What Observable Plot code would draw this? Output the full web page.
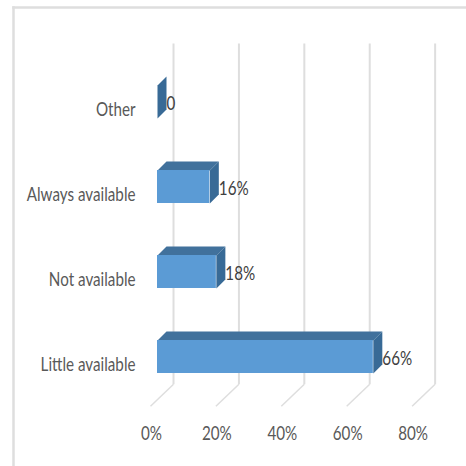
<!DOCTYPE html>
<html>
<head>
<meta charset="utf-8">
<script src="https://cdn.jsdelivr.net/npm/d3@7"></script>
<script src="https://cdn.jsdelivr.net/npm/@observablehq/plot@0.6"></script>
<style>
  html, body { margin: 0; padding: 0; background: #fff; }
</style>
</head>
<body>
<div id="chart"></div>
<script>
const categories = ["Other", "Always available", "Not available", "Little available"];
const shares = [0, 16, 18, 66];
const shareLabels = ["0", "16%", "18%", "66%"];
const axisTicks = [0, 20, 40, 60, 80];

const rows = categories.map((name, i) => ({name, row: i, value: shares[i], label: shareLabels[i]}));

// Oblique projection of the pseudo-3D bars, in data units.
const halfBar = 0.194, depthX = 2.75, depthY = 0.106;
const wallX = 4.9, floorX = -2.14, wallTop = -0.688, wallBottom = 3.32, floorFront = 3.58;

const topFaces = rows.flatMap(d => [
  [0, d.row - halfBar], [d.value, d.row - halfBar],
  [d.value + depthX, d.row - halfBar - depthY], [depthX, d.row - halfBar - depthY]
].map(([x, y]) => ({x, y, name: d.name})));

const sideFaces = rows.flatMap(d => [
  [d.value, d.row - halfBar], [d.value, d.row + halfBar],
  [d.value + depthX, d.row + halfBar - depthY], [d.value + depthX, d.row - halfBar - depthY]
].map(([x, y]) => ({x, y, name: d.name})));

const chart = Plot.plot({
  width: 466,
  height: 466,
  marginLeft: 13,
  marginTop: 7,
  marginRight: 0,
  marginBottom: 0,
  style: {color: "#595959", background: "#fff", fontFamily: "Lato, sans-serif", fontSize: "19px"},
  x: {domain: [0, 80], range: [157, 418.6], axis: null},
  y: {domain: [-1, 4], range: [16.5, 441.5], axis: null},
  marks: [
    Plot.frame({anchor: "top", stroke: "#dedede", strokeWidth: 2.5}),
    Plot.frame({anchor: "left", stroke: "#dedede", strokeWidth: 2.5}),
    // Back wall and floor gridlines
    Plot.link(axisTicks, {x1: d => d + wallX, x2: d => d + wallX, y1: () => wallTop, y2: () => wallBottom, stroke: "#dedede", strokeWidth: 2}),
    Plot.link(axisTicks, {x1: d => d + wallX, x2: d => d + floorX, y1: () => wallBottom, y2: () => floorFront, stroke: "#dedede", strokeWidth: 1.5}),
    // Bars: top face, side face, front face
    Plot.line(topFaces, {x: "x", y: "y", z: "name", fill: "#41719c", stroke: null, curve: "linear-closed"}),
    Plot.line(sideFaces, {x: "x", y: "y", z: "name", fill: "#386a96", stroke: null, curve: "linear-closed"}),
    Plot.rect(rows, {x1: () => 0, x2: "value", y1: d => d.row - halfBar, y2: d => d.row + halfBar, fill: "#5b9bd5"}),
    Plot.text(rows, {x: "value", y: d => d.row + 0.025, text: "label", textAnchor: "start", dx: 9, fill: "#404040"}),
    Plot.axisX({ticks: axisTicks, tickFormat: d => d + "%", tickSize: 0, anchor: "bottom", dy: -49, dx: -6, fontSize: 19, label: null}),
    Plot.axisY({ticks: [0, 1, 2, 3], tickFormat: i => categories[i], tickSize: 0, anchor: "left", dx: 131, dy: 8, fontSize: 19, label: null})
  ]
});

document.getElementById("chart").appendChild(chart);

// The labels are set in a condensed cut of the typeface.
chart.querySelectorAll("text").forEach(t => {
  t.setAttribute("textLength", (t.getComputedTextLength() * 0.8).toFixed(1));
  t.setAttribute("lengthAdjust", "spacingAndGlyphs");
});
</script>
</body>
</html>
